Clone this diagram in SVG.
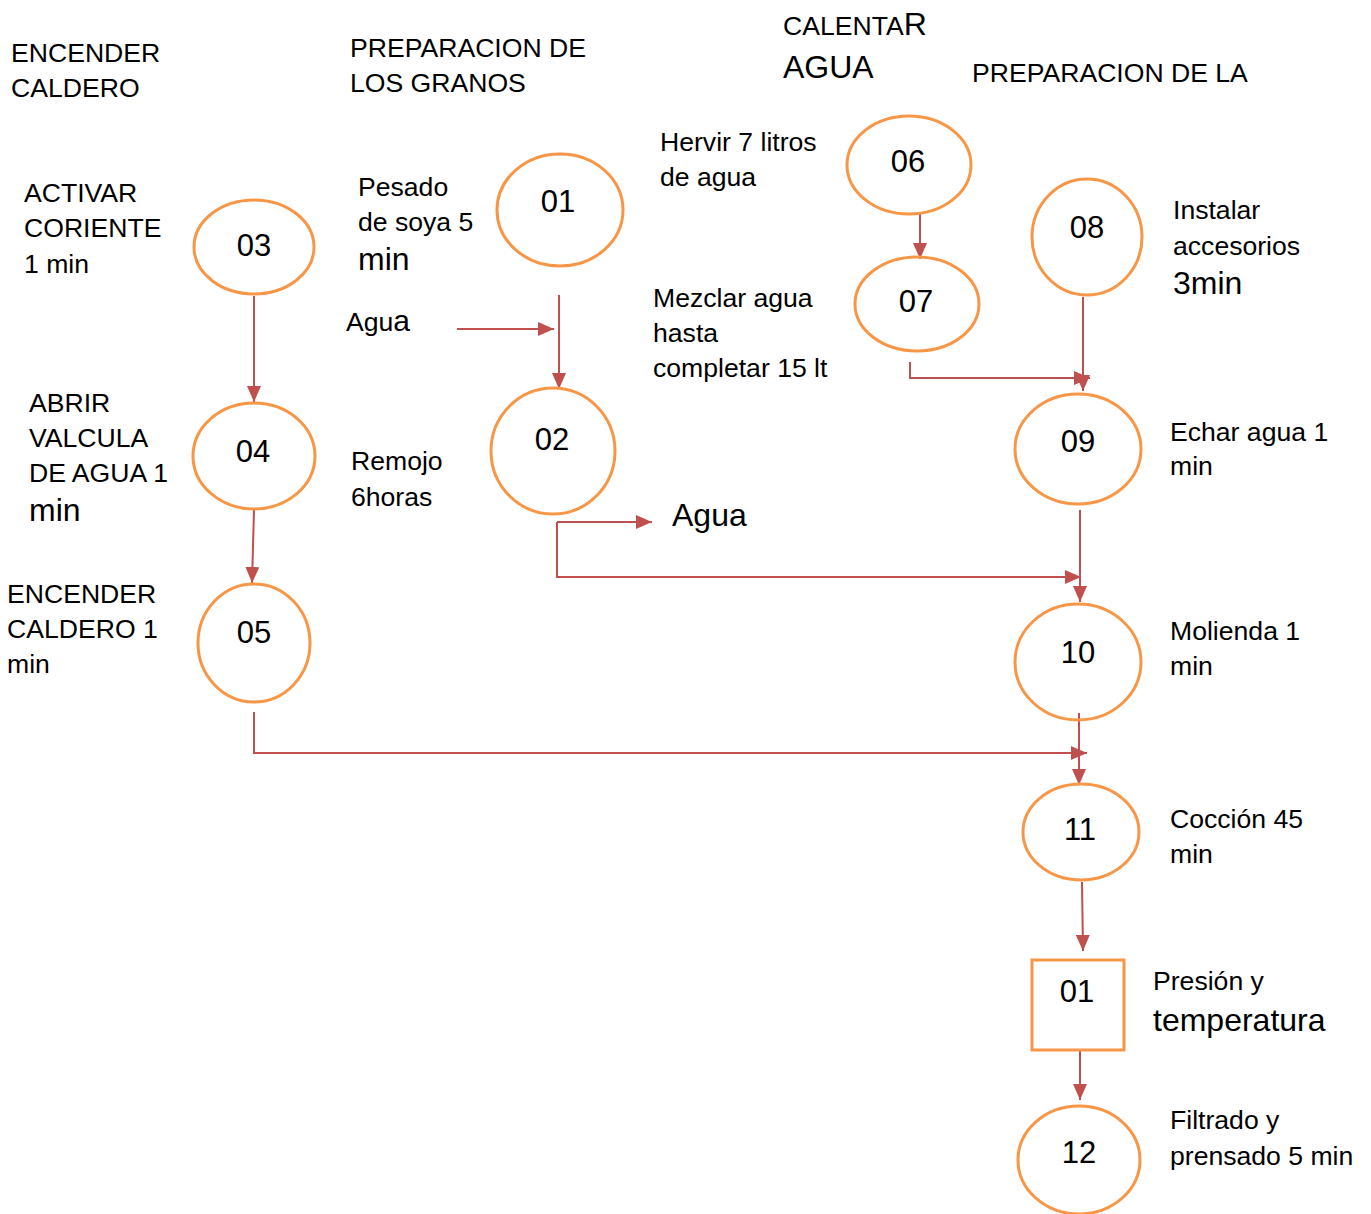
<svg xmlns="http://www.w3.org/2000/svg" width="1371" height="1214" viewBox="0 0 1371 1214">
<style>
text{font-family:"Liberation Sans",Arial,sans-serif;fill:#000;font-size:26.6px}
text.big{font-size:32px}
text.num{font-size:31px;text-anchor:middle}
.node ellipse,.node rect{fill:none;stroke:#F79646;stroke-width:3}
.conn{fill:none;stroke:#C0504D;stroke-width:2}
</style>
<defs>
<marker id="ah" markerUnits="userSpaceOnUse" markerWidth="16" markerHeight="14" refX="16" refY="7" orient="auto">
<path d="M0,0 L16,7 L0,14 Z" fill="#C0504D"/>
</marker>
</defs>
<rect width="1371" height="1214" fill="#fff"/>
<g id="labels">
<text x="11" y="62">ENCENDER</text>
<text x="11" y="97">CALDERO</text>
<text x="350" y="57">PREPARACION DE</text>
<text x="350" y="92">LOS GRANOS</text>
<text x="783" y="35">CALENTA<tspan font-size="32">R</tspan></text>
<text x="783" y="78" class="big">AGUA</text>
<text x="972" y="82">PREPARACION DE LA</text>
<text x="24" y="202">ACTIVAR</text>
<text x="24" y="237">CORIENTE</text>
<text x="24" y="273">1 min</text>
<text x="358" y="196">Pesado</text>
<text x="358" y="231">de soya 5</text>
<text x="358" y="270" class="big">min</text>
<text x="660" y="151">Hervir 7 litros</text>
<text x="660" y="186">de agua</text>
<text x="1173" y="219">Instalar</text>
<text x="1173" y="255">accesorios</text>
<text x="1173" y="294" class="big">3min</text>
<text x="653" y="307">Mezclar agua</text>
<text x="653" y="342">hasta</text>
<text x="653" y="377">completar 15 lt</text>
<text x="346" y="331">Agu<tspan font-size="30">a</tspan></text>
<text x="29" y="412">ABRIR</text>
<text x="29" y="447">VALCULA</text>
<text x="29" y="482">DE AGUA 1</text>
<text x="29" y="521" class="big">min</text>
<text x="351" y="470">Remojo</text>
<text x="351" y="506">6horas</text>
<text x="672" y="526" class="big">Agua</text>
<text x="1170" y="441">Echar agua 1</text>
<text x="1170" y="475">min</text>
<text x="7" y="603">ENCENDER</text>
<text x="7" y="638">CALDERO 1</text>
<text x="7" y="673">min</text>
<text x="1170" y="640">Molienda 1</text>
<text x="1170" y="675">min</text>
<text x="1170" y="828">Cocción 45</text>
<text x="1170" y="863">min</text>
<text x="1153" y="990">Presión y</text>
<text x="1153" y="1031" class="big">temperatura</text>
<text x="1170" y="1129">Filtrado y</text>
<text x="1170" y="1165">prensado 5 min</text>
</g>
<g id="connectors">
<line class="conn" x1="254" y1="296" x2="254" y2="402" marker-end="url(#ah)"/>
<line class="conn" x1="254" y1="510" x2="252" y2="583" marker-end="url(#ah)"/>
<line class="conn" x1="457" y1="329" x2="554" y2="329" marker-end="url(#ah)"/>
<line class="conn" x1="559" y1="295" x2="559" y2="389" marker-end="url(#ah)"/>
<polyline class="conn" points="557,522 652,522" marker-end="url(#ah)"/>
<polyline class="conn" points="557,522 557,577 1081,577" marker-end="url(#ah)"/>
<line class="conn" x1="920" y1="214" x2="920" y2="259" marker-end="url(#ah)"/>
<polyline class="conn" points="910,362 910,378 1090,378" marker-end="url(#ah)"/>
<line class="conn" x1="1083" y1="297" x2="1083" y2="391" marker-end="url(#ah)"/>
<line class="conn" x1="1080" y1="510" x2="1080" y2="602" marker-end="url(#ah)"/>
<polyline class="conn" points="254,712 254,753 1087,753" marker-end="url(#ah)"/>
<line class="conn" x1="1079" y1="713" x2="1079" y2="785" marker-end="url(#ah)"/>
<line class="conn" x1="1082" y1="882" x2="1083" y2="951" marker-end="url(#ah)"/>
<line class="conn" x1="1080" y1="1050" x2="1080" y2="1100" marker-end="url(#ah)"/>
</g>
<g id="n03" class="node"><ellipse cx="254" cy="247" rx="60" ry="47"/><text class="num" x="254" y="256">03</text></g>
<g id="n04" class="node"><ellipse cx="254" cy="456" rx="61" ry="53"/><text class="num" x="253" y="462">04</text></g>
<g id="n05" class="node"><ellipse cx="254" cy="643" rx="56" ry="59"/><text class="num" x="254" y="643">05</text></g>
<g id="n01" class="node"><ellipse cx="560" cy="210" rx="63" ry="56"/><text class="num" x="558" y="212">01</text></g>
<g id="n02" class="node"><ellipse cx="553" cy="451" rx="62" ry="63"/><text class="num" x="552" y="450">02</text></g>
<g id="n06" class="node"><ellipse cx="909" cy="165" rx="62" ry="49"/><text class="num" x="908" y="172">06</text></g>
<g id="n07" class="node"><ellipse cx="917" cy="304" rx="62" ry="47"/><text class="num" x="916" y="312">07</text></g>
<g id="n08" class="node"><ellipse cx="1087" cy="237" rx="55" ry="58"/><text class="num" x="1087" y="238">08</text></g>
<g id="n09" class="node"><ellipse cx="1078" cy="449" rx="63" ry="55"/><text class="num" x="1078" y="452">09</text></g>
<g id="n10" class="node"><ellipse cx="1078" cy="662" rx="63" ry="58"/><text class="num" x="1078" y="663">10</text></g>
<g id="n11" class="node"><ellipse cx="1081" cy="832" rx="58" ry="48"/><text class="num" x="1080" y="840">11</text></g>
<g id="r01" class="node"><rect x="1032" y="960" width="92" height="90"/><text class="num" x="1077" y="1002">01</text></g>
<g id="n12" class="node"><ellipse cx="1079" cy="1160" rx="61" ry="54"/><text class="num" x="1079" y="1163">12</text></g>
</svg>
